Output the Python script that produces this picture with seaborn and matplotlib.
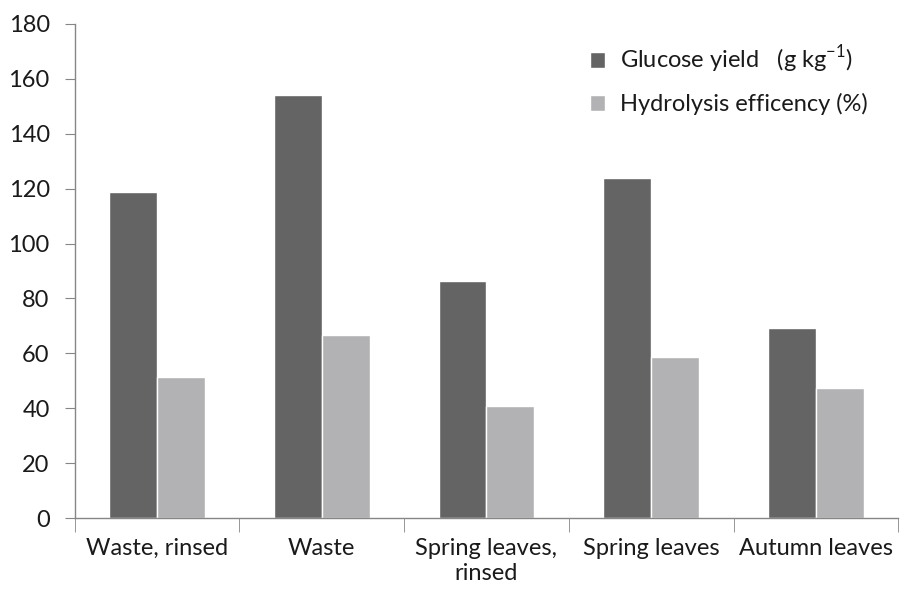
import matplotlib.pyplot as plt
import pandas as pd
import seaborn as sns
from matplotlib.ticker import FixedLocator

categories = ["Waste, rinsed", "Waste", "Spring leaves,\nrinsed", "Spring leaves", "Autumn leaves"]
glucose_yield = [118.8, 154.2, 86.5, 123.9, 69.2]
hydrolysis_eff = [51.5, 66.8, 40.8, 58.7, 47.4]
series_names = ["Glucose yield   (g kg$^{\\mathregular{-1}}$)", "Hydrolysis efficency (%)"]


def main():
    sns.set_style("white")
    plt.rcParams["font.family"] = ["Lato", "DejaVu Sans"]

    df = pd.DataFrame({
        "Sample": categories * 2,
        "Value": glucose_yield + hydrolysis_eff,
        "Series": [series_names[0]] * len(categories) + [series_names[1]] * len(categories),
    })

    fig = plt.figure(figsize=(9, 5.95), dpi=100)
    ax = fig.add_axes([0.083, 0.129, 0.915, 0.831])

    sns.barplot(data=df, x="Sample", y="Value", hue="Series", hue_order=series_names,
                palette=["#646464", "#b2b2b4"], width=0.58, ax=ax, saturation=1)

    ax.set_xlim(-0.5, len(categories) - 0.5)
    ax.set_ylim(0, 180)
    ax.set_yticks(range(0, 181, 20))
    ax.set_xlabel("")
    ax.set_ylabel("")

    for s in ["top", "right"]:
        ax.spines[s].set_visible(False)
    for s in ["left", "bottom"]:
        ax.spines[s].set_color("#868686")
        ax.spines[s].set_linewidth(1)

    ax.tick_params(axis="y", which="major", length=7, color="#868686", labelsize=17,
                   labelcolor="#1a1a1a", left=True, pad=11)
    ax.tick_params(axis="x", which="major", length=0, labelsize=17, labelcolor="#1a1a1a", pad=14)
    for lbl in ax.get_xticklabels():
        lbl.set_linespacing(1.25)
    ax.xaxis.set_minor_locator(FixedLocator([i - 0.5 for i in range(len(categories) + 1)]))
    ax.tick_params(axis="x", which="minor", length=10, color="#868686", bottom=True)

    leg = ax.legend(loc="upper left", bbox_to_anchor=(0.6, 1.003), frameon=False, fontsize=17,
                    handlelength=0.65, handleheight=0.65, handletextpad=0.6, labelspacing=0.75,
                    title=None)
    for t in leg.get_texts():
        t.set_color("#1a1a1a")

    fig.savefig("out.png", dpi=100)
    plt.close(fig)


if __name__ == "__main__":
    main()
